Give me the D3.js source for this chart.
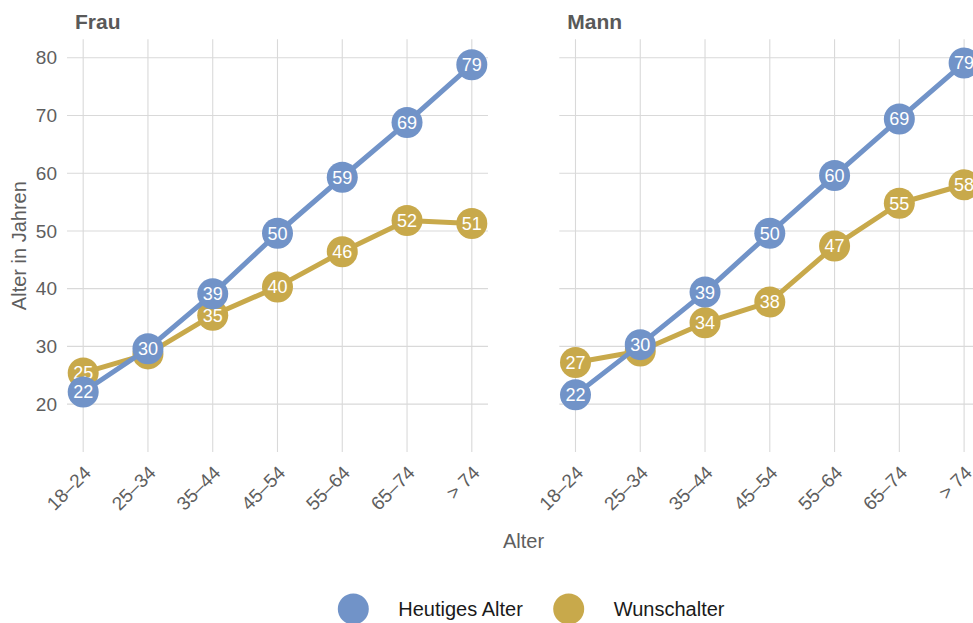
<!DOCTYPE html>
<html>
<head>
<meta charset="utf-8">
<script src="https://cdn.jsdelivr.net/npm/d3@7"></script>
<style>
  html, body { margin: 0; padding: 0; background: #ffffff; }
  svg { display: block; font-family: "Liberation Sans", Arial, Helvetica, sans-serif; }
</style>
</head>
<body>
<svg id="chart" width="973" height="623"></svg>
<script>
// ---- data ----
const categories = ["18–24", "25–34", "35–44", "45–54", "55–64", "65–74", "> 74"];
const panels = ["Frau", "Mann"];
const seriesNames = ["Heutiges Alter", "Wunschalter"];
const frauHeute  = [22.1, 29.6, 39.1, 49.6, 59.3, 68.8, 78.8];
const frauWunsch = [25.4, 28.7, 35.4, 40.3, 46.4, 51.8, 51.3];
const mannHeute  = [21.6, 30.3, 39.4, 49.6, 59.6, 69.4, 79.1];
const mannWunsch = [27.2, 29.2, 34.1, 37.7, 47.4, 54.8, 58.0];
const yTicks = [20, 30, 40, 50, 60, 70, 80];
const xTitle = "Alter";
const yTitle = "Alter in Jahren";

const panelData = {
  "Frau": { "Heutiges Alter": frauHeute, "Wunschalter": frauWunsch },
  "Mann": { "Heutiges Alter": mannHeute, "Wunschalter": mannWunsch }
};
const colors = { "Heutiges Alter": "#7193c8", "Wunschalter": "#c8a94b" };

// ---- layout ----
const svg = d3.select("#chart");
const W = 973, H = 623;
svg.append("rect").attr("width", W).attr("height", H).attr("fill", "#fff");

const panelX0 = [67, 559.3];
const panelW = 421;
const plotTop = 39.3, plotBottom = 452;
const gridColor = "#d9d9d9";
const textGrey = "#5e5e5e";

const y = d3.scaleLinear().domain([11.7, 83.2]).range([plotBottom, plotTop]);

panels.forEach((p, pi) => {
  const x0 = panelX0[pi];
  const x = d3.scalePoint().domain(categories).range([x0, x0 + panelW]).padding(0.25);
  const g = svg.append("g");

  // horizontal grid
  g.selectAll(".hg").data(yTicks).enter().append("line")
    .attr("x1", x0).attr("x2", x0 + panelW)
    .attr("y1", d => y(d)).attr("y2", d => y(d))
    .attr("stroke", gridColor).attr("stroke-width", 1.1);
  // vertical grid
  g.selectAll(".vg").data(categories).enter().append("line")
    .attr("x1", d => x(d)).attr("x2", d => x(d))
    .attr("y1", plotTop).attr("y2", plotBottom)
    .attr("stroke", gridColor).attr("stroke-width", 1.1);

  // panel title
  g.append("text").attr("x", x0 + 8).attr("y", 29)
    .attr("font-size", 21).attr("font-weight", "bold").attr("fill", "#595959")
    .text(p);

  // y tick labels (only on first panel)
  if (pi === 0) {
    g.selectAll(".yt").data(yTicks).enter().append("text")
      .attr("x", x0 - 10).attr("y", d => y(d)).attr("dy", "0.35em")
      .attr("text-anchor", "end").attr("font-size", 19).attr("fill", textGrey)
      .text(d => d);
  }

  // x tick labels
  g.selectAll(".xt").data(categories).enter().append("text")
    .attr("transform", d => `translate(${x(d) - 0.5},${464.5}) rotate(-45)`)
    .attr("dy", "0.71em")
    .attr("text-anchor", "end").attr("font-size", 19).attr("fill", textGrey)
    .text(d => d);

  // series: Wunschalter first, Heutiges Alter on top
  ["Wunschalter", "Heutiges Alter"].forEach(s => {
    const vals = panelData[p][s];
    const pts = categories.map((c, i) => ({ c, v: vals[i] }));
    const line = d3.line().x(d => x(d.c)).y(d => y(d.v));
    g.append("path").datum(pts).attr("d", line)
      .attr("fill", "none").attr("stroke", colors[s]).attr("stroke-width", 5)
      .attr("stroke-linejoin", "round");
    g.selectAll(null).data(pts).enter().append("circle")
      .attr("cx", d => x(d.c)).attr("cy", d => y(d.v)).attr("r", 15.5)
      .attr("fill", colors[s]);
    g.selectAll(null).data(pts).enter().append("text")
      .attr("x", d => x(d.c)).attr("y", d => y(d.v)).attr("dy", "0.36em")
      .attr("text-anchor", "middle").attr("font-size", 18).attr("fill", "#ffffff")
      .text(d => Math.round(d.v));
  });
});

// axis titles
svg.append("text").attr("x", 523.5).attr("y", 548)
  .attr("text-anchor", "middle").attr("font-size", 20).attr("fill", textGrey)
  .text(xTitle);
svg.append("text").attr("transform", `translate(26,${(plotTop + plotBottom) / 2}) rotate(-90)`)
  .attr("text-anchor", "middle").attr("font-size", 20).attr("fill", textGrey)
  .text(yTitle);

// legend
const legendX = [353.3, 568.7];
seriesNames.forEach((s, i) => {
  const lg = svg.append("g");
  lg.append("circle").attr("cx", legendX[i]).attr("cy", 609).attr("r", 15.5).attr("fill", colors[s]);
  lg.append("text").attr("x", legendX[i] + 45).attr("y", 609).attr("dy", "0.36em")
    .attr("font-size", 20).attr("fill", "#1a1a1a").text(s);
});
</script>
</body>
</html>
